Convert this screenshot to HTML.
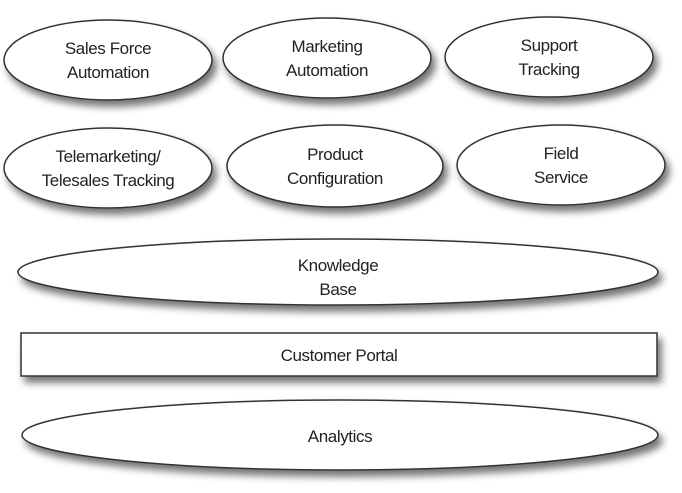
<!DOCTYPE html>
<html><head><meta charset="utf-8"><style>
html,body{margin:0;padding:0;background:#fff;}
svg{display:block;}
text{font-family:"Liberation Sans",sans-serif;font-size:17px;letter-spacing:-0.4px;fill:#222;text-anchor:middle;}
</style></head><body>
<svg width="682" height="493" viewBox="0 0 682 493" xmlns="http://www.w3.org/2000/svg">
<defs>
<filter id="sh" x="-10%" y="-30%" width="125%" height="170%">
<feGaussianBlur in="SourceAlpha" stdDeviation="4"/>
<feOffset dx="4" dy="6" result="b"/>
<feComponentTransfer><feFuncA type="linear" slope="0.55"/></feComponentTransfer>
<feMerge><feMergeNode/><feMergeNode in="SourceGraphic"/></feMerge>
</filter>
</defs>
<g fill="#fff" stroke="#333" stroke-width="1.5" filter="url(#sh)">
<ellipse cx="108" cy="60" rx="104" ry="40"/>
<ellipse cx="327" cy="58" rx="104" ry="40"/>
<ellipse cx="549" cy="57" rx="104" ry="40"/>
<ellipse cx="108" cy="168" rx="104" ry="40"/>
<ellipse cx="335" cy="166" rx="108" ry="41"/>
<ellipse cx="561" cy="165" rx="104" ry="40"/>
<ellipse cx="338" cy="272" rx="320" ry="33"/>
<rect x="21" y="333" width="636" height="43"/>
<ellipse cx="340" cy="435" rx="318" ry="35"/>
</g>
<text x="108" y="54">Sales Force</text>
<text x="108" y="78">Automation</text>
<text x="327" y="52">Marketing</text>
<text x="327" y="76">Automation</text>
<text x="549" y="51">Support</text>
<text x="549" y="75">Tracking</text>
<text x="108" y="162">Telemarketing/</text>
<text x="108" y="186">Telesales Tracking</text>
<text x="335" y="160">Product</text>
<text x="335" y="184">Configuration</text>
<text x="561" y="159">Field</text>
<text x="561" y="183">Service</text>
<text x="338" y="271">Knowledge</text>
<text x="338" y="295">Base</text>
<text x="339" y="361">Customer Portal</text>
<text x="340" y="442">Analytics</text>
</svg>
</body></html>
